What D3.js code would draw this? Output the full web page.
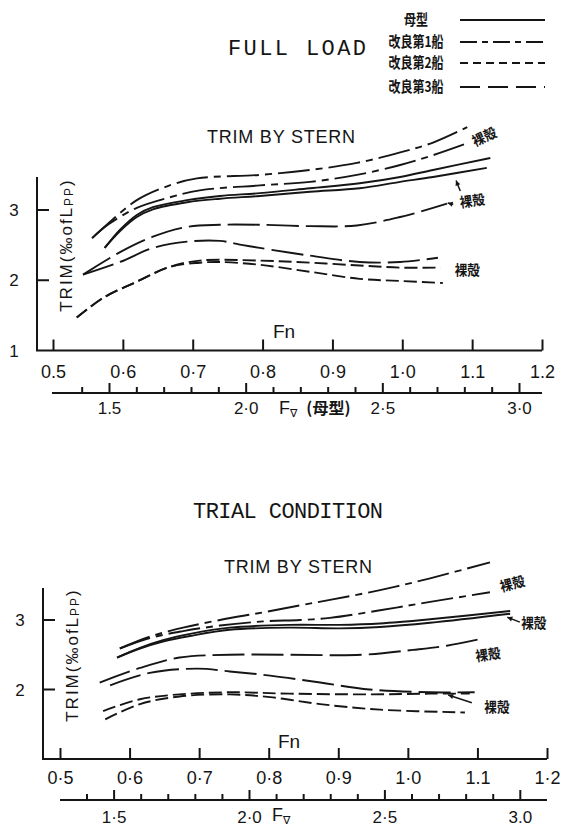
<!DOCTYPE html>
<html><head><meta charset="utf-8">
<script src="https://cdn.jsdelivr.net/npm/d3@7"></script>
<style>body{margin:0;background:#fff}svg{display:block}</style>
</head><body>
<script>
// ---------------- DATA ----------------
const fnTicks = [0.5, 0.6, 0.7, 0.8, 0.9, 1.0, 1.1, 1.2];
const fnLabelsFull = ["0.5", "0·6", "0·7", "0·8", "0·9", "1·0", "1.1", "1.2"];
const fnLabelsTrial = ["0·5", "0·6", "0·7", "0·8", "0·9", "1·0", "1.1", "1·2"];
const fvMajorTicks = [1.5, 2.0, 2.5, 3.0];
const fvLabelsFull = ["1.5", "2·0", "2·5", "3·0"];
const fvLabelsTrial = ["1·5", "2·0", "2·5", "3.0"];
const fvMinorTicks = [1.4, 1.6, 1.7, 1.8, 1.9, 2.1, 2.2, 2.3, 2.4, 2.6, 2.7, 2.8, 2.9];
const trimTicksFull = [1, 2, 3];
const trimTicksTrial = [2, 3];
const legendLabels = ["母型", "改良第1船", "改良第2船", "改良第3船"];
const bareLabel = "裸殻";

// FULL LOAD  [Fn, trim %]
const full_mother      = [[0.574,2.46],[0.596,2.72],[0.620,2.93],[0.643,3.04],[0.692,3.14],[0.739,3.20],[0.796,3.24],[0.868,3.31],[0.939,3.38],[0.997,3.47],[1.044,3.57],[1.126,3.74]];
const full_motherBare  = [[0.574,2.46],[0.596,2.70],[0.620,2.90],[0.643,3.01],[0.692,3.11],[0.739,3.16],[0.796,3.20],[0.868,3.26],[0.939,3.31],[0.997,3.40],[1.044,3.47],[1.121,3.60]];
const full_ship1Bare   = [[0.556,2.60],[0.577,2.79],[0.620,3.14],[0.667,3.35],[0.706,3.45],[0.796,3.50],[0.868,3.57],[0.935,3.67],[0.997,3.82],[1.044,3.96],[1.093,4.18]];
const full_ship1       = [[0.556,2.60],[0.580,2.80],[0.620,3.03],[0.667,3.18],[0.710,3.28],[0.796,3.35],[0.868,3.40],[0.935,3.50],[0.997,3.64],[1.044,3.78],[1.093,3.95]];
const full_ship2       = [[0.534,1.47],[0.572,1.75],[0.620,1.98],[0.667,2.19],[0.710,2.25],[0.739,2.26],[0.796,2.22],[0.868,2.12],[0.939,2.02],[0.997,1.99],[1.058,1.96]];
const full_ship2Bare   = [[0.534,1.47],[0.572,1.75],[0.620,1.98],[0.667,2.19],[0.710,2.28],[0.796,2.28],[0.868,2.25],[0.939,2.21],[0.997,2.18],[1.055,2.18]];
const full_ship3Bare   = [[0.543,2.08],[0.596,2.40],[0.643,2.62],[0.692,2.76],[0.739,2.79],[0.796,2.79],[0.868,2.77],[0.935,2.78],[0.997,2.90],[1.044,3.03],[1.064,3.09]];
const full_ship3       = [[0.543,2.08],[0.596,2.26],[0.643,2.46],[0.692,2.55],[0.739,2.56],[0.772,2.50],[0.796,2.46],[0.868,2.35],[0.939,2.26],[0.997,2.26],[1.051,2.32]];

// TRIAL CONDITION  [Fn, trim %]
const trial_mother     = [[0.582,2.46],[0.615,2.60],[0.648,2.71],[0.687,2.80],[0.744,2.89],[0.830,2.93],[0.902,2.93],[0.960,2.95],[1.032,3.01],[1.147,3.13]];
const trial_motherBare = [[0.582,2.46],[0.615,2.59],[0.648,2.69],[0.687,2.77],[0.744,2.86],[0.830,2.89],[0.902,2.88],[0.960,2.90],[1.032,2.96],[1.147,3.09]];
const trial_ship1Bare  = [[0.586,2.59],[0.629,2.76],[0.677,2.89],[0.730,3.00],[0.792,3.11],[0.845,3.21],[0.888,3.29],[0.960,3.43],[1.032,3.60],[1.118,3.83]];
const trial_ship1      = [[0.586,2.59],[0.629,2.74],[0.677,2.84],[0.730,2.92],[0.792,2.98],[0.845,3.00],[0.888,3.03],[0.960,3.14],[1.032,3.26],[1.118,3.40]];
const trial_ship2Bare  = [[0.562,1.69],[0.615,1.86],[0.672,1.93],[0.744,1.96],[0.830,1.94],[0.945,1.93],[1.032,1.94],[1.089,1.94]];
const trial_ship2      = [[0.565,1.57],[0.615,1.79],[0.672,1.90],[0.744,1.93],[0.802,1.89],[0.874,1.79],[0.960,1.71],[1.082,1.67]];
const trial_ship3Bare  = [[0.557,2.10],[0.615,2.31],[0.672,2.46],[0.744,2.50],[0.830,2.50],[0.935,2.50],[1.007,2.57],[1.056,2.63],[1.106,2.73]];
const trial_ship3      = [[0.572,2.06],[0.629,2.24],[0.697,2.30],[0.744,2.26],[0.802,2.20],[0.874,2.10],[0.945,2.00],[1.032,1.96],[1.096,1.96]];

// ---------------- DRAWING ----------------
const ink = "#151515";
const sansFont = "'Liberation Sans', Arial, sans-serif";
const monoFont = "'Liberation Mono', 'DejaVu Sans Mono', monospace";
const cjkFont = "'Noto Sans CJK JP', 'Noto Sans CJK SC', sans-serif";
const curveDash = ["none", "32,6,7,6", "13,5", "32,7"];
const legendDash = ["none", "17,5,6,5", "8,5", "20,8"];

const svg = d3.select("body").append("svg").attr("width", 564).attr("height", 828);

// legend
const legendY = [20, 42, 63, 87];
legendLabels.forEach((lab, i) => {
  svg.append("line").attr("x1", 460).attr("x2", 545).attr("y1", legendY[i]).attr("y2", legendY[i])
    .attr("stroke", ink).attr("stroke-width", 1.9).attr("stroke-dasharray", legendDash[i]);
  svg.append("text").attr("transform", `translate(416,${legendY[i] - 2}) scale(0.8,1)`)
    .attr("text-anchor", "middle").attr("dominant-baseline", "central")
    .attr("font-family", cjkFont).attr("font-weight", 700).attr("font-size", 15).attr("fill", ink).text(lab);
});

function drawPanel(p) {
  const g = svg.append("g");
  const x = d3.scaleLinear().domain([0.5, 1.2]).range(p.xRange);
  const y = d3.scaleLinear().domain([1, 3]).range(p.yRange);
  const fv = d3.scaleLinear().domain([1.5, 3.0]).range(p.fvRange);

  // titles
  g.append("text").attr("x", p.title[1]).attr("y", p.title[2]).attr("text-anchor", "middle")
    .attr("font-family", monoFont).attr("font-size", 22).attr("fill", ink)
    .attr("textLength", p.title[3]).attr("lengthAdjust", "spacing").text(p.title[0]);
  g.append("text").attr("x", p.sub[0]).attr("y", p.sub[1]).attr("text-anchor", "middle")
    .attr("font-family", sansFont).attr("font-size", 18).attr("fill", ink)
    .attr("textLength", 148).attr("lengthAdjust", "spacing").text("TRIM BY STERN");

  // y axis and baseline
  g.append("path").attr("d", `M${p.axisX},${y(p.yTopVal)}V${y(1)}H${x(1.2)}`)
    .attr("fill", "none").attr("stroke", ink).attr("stroke-width", 2);
  p.trimTicks.forEach(t => {
    if (t > 1) g.append("line").attr("x1", p.axisX).attr("x2", p.axisX + 12).attr("y1", y(t)).attr("y2", y(t))
      .attr("stroke", ink).attr("stroke-width", 2);
    g.append("text").attr("x", p.yLabX).attr("y", y(t)).attr("dy", "0.36em").attr("text-anchor", "middle")
      .attr("font-family", sansFont).attr("font-size", 17).attr("fill", ink).text(t);
  });

  // y title
  const yt = g.append("text").attr("transform", `translate(${p.yTitle[0]},${p.yTitle[1]}) rotate(-90)`)
    .attr("text-anchor", "middle").attr("dominant-baseline", "central")
    .attr("font-family", sansFont).attr("font-size", 17).attr("fill", ink)
    .attr("letter-spacing", 2);
  yt.append("tspan").text("TRIM(‰ofL");
  yt.append("tspan").attr("font-size", 12).attr("dy", 3).text("PP");
  yt.append("tspan").attr("dy", -3).text(")");

  // Fn axis
  const fnAxis = d3.axisBottom(x).tickValues(fnTicks).tickFormat((d, i) => p.fnLabels[i])
    .tickSizeInner(-11).tickSizeOuter(0).tickPadding(p.fnPad);
  const ga = g.append("g").attr("transform", `translate(0,${y(1)})`).call(fnAxis);
  ga.select(".domain").remove();
  ga.selectAll("line").attr("stroke", ink).attr("stroke-width", 2);
  ga.selectAll("text").attr("font-family", sansFont).attr("font-size", 18).attr("fill", ink);

  g.append("text").attr("x", p.fnTitle[0]).attr("y", p.fnTitle[1]).attr("text-anchor", "middle")
    .attr("font-family", sansFont).attr("font-size", 19).attr("fill", ink).text("Fn");

  // F∇ axis
  g.append("line").attr("x1", x(0.5) + p.fvStartOff).attr("x2", x(1.2)).attr("y1", p.fvY).attr("y2", p.fvY)
    .attr("stroke", ink).attr("stroke-width", 2);
  const fvAxis = d3.axisBottom(fv).tickValues(fvMajorTicks).tickFormat((d, i) => p.fvLabels[i])
    .tickSizeInner(-10).tickSizeOuter(0).tickPadding(p.fvPad);
  const gf = g.append("g").attr("transform", `translate(0,${p.fvY})`).call(fvAxis);
  gf.select(".domain").remove();
  gf.selectAll("line").attr("stroke", ink).attr("stroke-width", 2);
  gf.selectAll("text").attr("font-family", sansFont).attr("font-size", 17).attr("fill", ink);
  const fvMinorAxis = d3.axisBottom(fv).tickValues(fvMinorTicks).tickFormat("").tickSizeInner(-6).tickSizeOuter(0);
  const gm = g.append("g").attr("transform", `translate(0,${p.fvY})`).call(fvMinorAxis);
  gm.select(".domain").remove();
  gm.selectAll("line").attr("stroke", ink).attr("stroke-width", 2);

  const fvt = g.append("text").attr("x", p.fvTitle[0]).attr("y", p.fvTitle[1])
    .attr("font-family", sansFont).attr("font-size", 18).attr("fill", ink);
  fvt.append("tspan").text("F");
  fvt.append("tspan").attr("font-size", 11).attr("dy", 2.5).attr("font-family", "'DejaVu Sans', sans-serif").text("∇");
  if (p.fvTitleExtra) {
    fvt.append("tspan").attr("dy", -2.5).attr("dx", 9).attr("font-family", cjkFont).attr("font-weight", 700)
      .attr("font-size", 16).text("(母型)");
  }

  // curves
  const line = d3.line().x(d => x(d[0])).y(d => y(d[1])).curve(d3.curveCatmullRom.alpha(0.5));
  p.series.forEach(s => {
    g.append("path").attr("d", line(s.pts)).attr("fill", "none").attr("stroke", ink)
      .attr("stroke-width", 1.9).attr("stroke-dasharray", curveDash[s.ship]).attr("stroke-linecap", "butt");
  });

  // annotations
  p.notes.forEach(n => {
    g.append("text").attr("transform", `translate(${x(n.fn)},${y(n.t)}) rotate(${n.rot || 0}) scale(0.9,1)`)
      .attr("text-anchor", "middle").attr("dominant-baseline", "central")
      .attr("font-family", cjkFont).attr("font-weight", 700).attr("font-size", 14).attr("fill", ink).text(bareLabel);
  });
  p.arrows.forEach(a => {
    const x1 = x(a[0]), y1 = y(a[1]), x2 = x(a[2]), y2 = y(a[3]);
    g.append("line").attr("x1", x1).attr("y1", y1).attr("x2", x2).attr("y2", y2)
      .attr("stroke", ink).attr("stroke-width", 1.5);
    const ang = Math.atan2(y2 - y1, x2 - x1);
    const L = 5, Wd = 2.6;
    const bx = x2 - L * Math.cos(ang), by = y2 - L * Math.sin(ang);
    g.append("path").attr("d",
      `M${x2},${y2}L${bx - Wd * Math.sin(ang)},${by + Wd * Math.cos(ang)}L${bx + Wd * Math.sin(ang)},${by - Wd * Math.cos(ang)}Z`)
      .attr("fill", ink);
  });
}

drawPanel({
  title: ["FULL LOAD", 297, 55, 138],
  sub: [281, 143],
  xRange: [53, 542], yRange: [350.5, 210], fvRange: [109, 519],
  axisX: 37, yTopVal: 3.47, trimTicks: trimTicksFull, yLabX: 14,
  yTitle: [66, 245],
  fnLabels: fnLabelsFull, fnPad: 15, fnTitle: [284, 338],
  fvY: 393, fvStartOff: -1, fvLabels: fvLabelsFull, fvPad: 9, fvTitle: [279, 414], fvTitleExtra: true,
  series: [
    {ship: 0, pts: full_mother}, {ship: 0, pts: full_motherBare},
    {ship: 1, pts: full_ship1}, {ship: 1, pts: full_ship1Bare},
    {ship: 2, pts: full_ship2}, {ship: 2, pts: full_ship2Bare},
    {ship: 3, pts: full_ship3}, {ship: 3, pts: full_ship3Bare}
  ],
  notes: [
    {fn: 1.117, t: 4.05, rot: -25},
    {fn: 1.100, t: 3.14, rot: -8},
    {fn: 1.093, t: 2.16, rot: 0}
  ],
  arrows: [
    [1.083, 3.27, 1.077, 3.42],
    [1.073, 3.08, 1.065, 3.10]
  ]
});

drawPanel({
  title: ["TRIAL CONDITION", 288, 518, 190],
  sub: [298, 573],
  xRange: [60, 547], yRange: [759, 620], fvRange: [113.6, 519.8],
  axisX: 43, yTopVal: 3.46, trimTicks: trimTicksTrial, yLabX: 20,
  yTitle: [72, 655],
  fnLabels: fnLabelsTrial, fnPad: 12, fnTitle: [289, 748],
  fvY: 800, fvStartOff: 0, fvLabels: fvLabelsTrial, fvPad: 11, fvTitle: [272, 821], fvTitleExtra: false,
  series: [
    {ship: 0, pts: trial_mother}, {ship: 0, pts: trial_motherBare},
    {ship: 1, pts: trial_ship1}, {ship: 1, pts: trial_ship1Bare},
    {ship: 2, pts: trial_ship2}, {ship: 2, pts: trial_ship2Bare},
    {ship: 3, pts: trial_ship3}, {ship: 3, pts: trial_ship3Bare}
  ],
  notes: [
    {fn: 1.150, t: 3.53, rot: -15},
    {fn: 1.181, t: 2.97, rot: 0},
    {fn: 1.115, t: 2.51, rot: -8},
    {fn: 1.128, t: 1.76, rot: 0}
  ],
  arrows: [
    [1.161, 2.97, 1.143, 3.04],
    [1.092, 1.81, 1.058, 1.92]
  ]
});
</script>
</body></html>
